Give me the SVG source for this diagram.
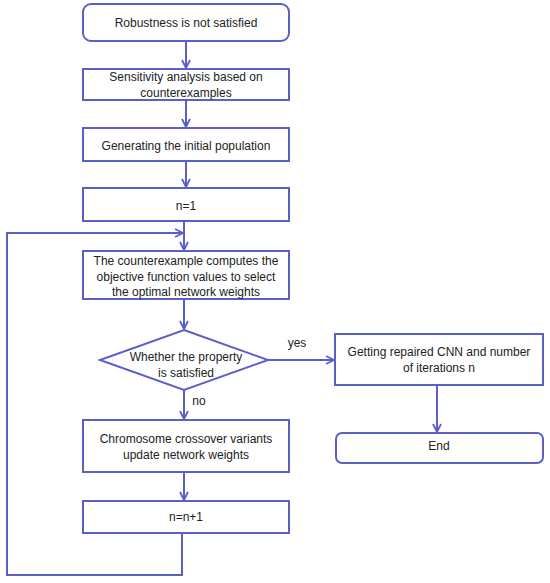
<svg xmlns="http://www.w3.org/2000/svg" width="550" height="583" viewBox="0 0 550 583">
<defs>
<marker id="arr" viewBox="0 0 10 10" refX="9" refY="5" markerWidth="10" markerHeight="10" markerUnits="userSpaceOnUse" orient="auto">
<polyline points="1,1 9,5 1,9" fill="none" stroke="#5b5fc7" stroke-width="1.8"/>
</marker>
<style>
.b{fill:#fff;stroke:#5b5fc7;stroke-width:2}
.t{font-family:"Liberation Sans",Arial,sans-serif;font-size:12px;fill:#222;text-anchor:middle}
.c{fill:none;stroke:#5b5fc7;stroke-width:2}
</style>
</defs>
<rect width="550" height="583" fill="#fff"/>
<g id="connectors">
<line class="c" x1="186" y1="41" x2="186" y2="68" marker-end="url(#arr)"/>
<line class="c" x1="186" y1="100" x2="186" y2="127" marker-end="url(#arr)"/>
<line class="c" x1="186" y1="161" x2="186" y2="187" marker-end="url(#arr)"/>
<line class="c" x1="184" y1="221" x2="184" y2="250" marker-end="url(#arr)"/>
<line class="c" x1="184" y1="299" x2="184" y2="329" marker-end="url(#arr)"/>
<line class="c" x1="184" y1="390" x2="184" y2="419" marker-end="url(#arr)"/>
<line class="c" x1="184" y1="472" x2="184" y2="500" marker-end="url(#arr)"/>
<polyline class="c" points="182,533 182,575 7,575 7,233 183,233" marker-end="url(#arr)"/>
<line class="c" x1="268" y1="360" x2="334" y2="360" marker-end="url(#arr)"/>
<line class="c" x1="437" y1="385" x2="437" y2="432" marker-end="url(#arr)"/>
<text class="t" x="297" y="347" font-size="13">yes</text>
<text class="t" x="199" y="405" font-size="13">no</text>
</g>
<g id="n1"><rect class="b" x="83" y="4" width="206" height="37" rx="8"/><text class="t" x="186" y="27">Robustness is not satisfied</text></g>
<g id="n2"><rect class="b" x="83" y="69" width="206" height="31"/><text class="t" x="186" y="81">Sensitivity analysis based on</text><text class="t" x="186" y="97">counterexamples</text></g>
<g id="n3"><rect class="b" x="83" y="128" width="206" height="33"/><text class="t" x="186" y="150">Generating the initial population</text></g>
<g id="n4"><rect class="b" x="83" y="188" width="206" height="33"/><text class="t" x="186" y="210">n=1</text></g>
<g id="n5"><rect class="b" x="83" y="251" width="206" height="48"/><text class="t" x="186" y="265">The counterexample computes the</text><text class="t" x="186" y="281">objective function values to select</text><text class="t" x="186" y="296">the optimal network weights</text></g>
<g id="n6"><polygon class="b" points="184,330 268,360 184,390 100,360"/><text class="t" x="186" y="361">Whether the property</text><text class="t" x="186" y="377">is satisfied</text></g>
<g id="n7"><rect class="b" x="83" y="420" width="206" height="52"/><text class="t" x="186" y="443">Chromosome crossover variants</text><text class="t" x="186" y="459">update network weights</text></g>
<g id="n8"><rect class="b" x="83" y="501" width="206" height="32"/><text class="t" x="186" y="521">n=n+1</text></g>
<g id="n9"><rect class="b" x="335" y="334" width="208" height="51"/><text class="t" x="439" y="356">Getting repaired CNN and number</text><text class="t" x="439" y="372">of iterations n</text></g>
<g id="n10"><rect class="b" x="336" y="433" width="207" height="30" rx="6"/><text class="t" x="439" y="450">End</text></g>
</svg>
